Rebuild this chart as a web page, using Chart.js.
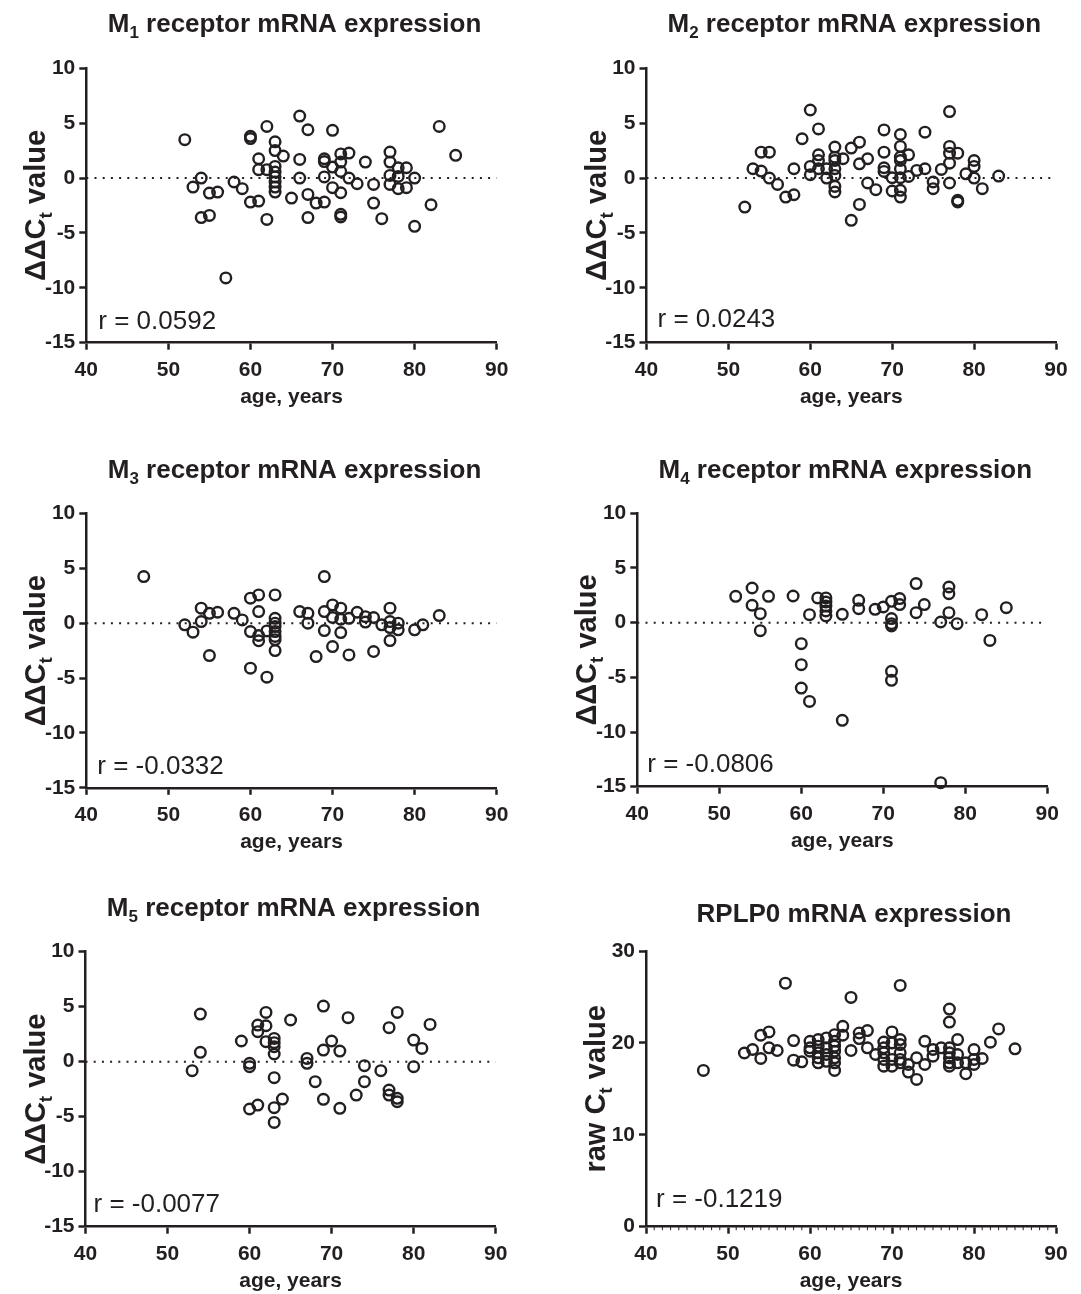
<!DOCTYPE html>
<html>
<head>
<meta charset="utf-8">
<script src="https://cdn.jsdelivr.net/npm/chart.js@4.4.1/dist/chart.umd.min.js"></script>
<style>
  body { margin: 0; background: #fff; width: 1081px; height: 1294px; position: relative; overflow: hidden; }
  canvas { position: absolute; }
</style>
</head>
<body>
<canvas id="c1" width="540" height="445" style="left:0;top:0"></canvas>
<canvas id="c2" width="541" height="445" style="left:540px;top:0"></canvas>
<canvas id="c3" width="540" height="440" style="left:0;top:445px"></canvas>
<canvas id="c4" width="541" height="440" style="left:540px;top:445px"></canvas>
<canvas id="c5" width="540" height="409" style="left:0;top:885px"></canvas>
<canvas id="c6" width="541" height="409" style="left:540px;top:885px"></canvas>
<script>
'use strict';

// ---- data (age in years, ΔΔCt / raw Ct) ----
const ageTicks = [40, 50, 60, 70, 80, 90];
const deltaTicks = [-15, -10, -5, 0, 5, 10];
const rawTicks = [0, 10, 20, 30];
const zeroLineX = [40, 90];

const m1Age = [52, 66, 62, 67, 70, 83, 85, 60, 60, 63, 63, 64, 61, 66, 69, 69, 71, 72, 71, 74, 77, 77, 78, 79,
  61, 62, 63, 63, 63, 63, 63, 63, 70, 71, 54, 66, 69, 72, 77, 78, 80, 53, 55, 56, 58, 59, 73, 75, 77, 78, 79,
  70, 71, 65, 67, 60, 61, 68, 69, 75, 82, 54, 55, 62, 67, 71, 71, 76, 80, 57];
const m1Val = [3.5, 5.65, 4.7, 4.4, 4.35, 4.7, 2.07, 3.8, 3.6, 3.3, 2.5, 2.0, 1.76, 1.7, 1.76, 1.5, 2.2, 2.28, 1.46, 1.46, 2.37, 1.46, 0.94, 0.94,
  0.76, 0.76, 1.06, 0.55, 0.1, -0.36, -0.82, -1.28, 1.0, 0.6, 0, 0, 0.1, 0, 0.24, 0.15, 0, -0.82, -1.37, -1.28, -0.36, -0.97, -0.52, -0.58, -0.58, -0.97, -0.88,
  -0.88, -1.34, -1.82, -1.49, -2.19, -2.1, -2.28, -2.19, -2.28, -2.43, -3.6, -3.4, -3.77, -3.6, -3.3, -3.55, -3.7, -4.4, -9.1];

const m2Age = [52, 53, 54, 54, 55, 55, 56, 57, 58, 58, 59, 60, 61, 60, 60, 61, 61, 61, 62, 62, 63, 63, 63, 63, 63, 63, 63,
  64, 65, 66, 66, 67, 67, 68, 65, 66, 69, 69, 69, 69, 70, 70, 71, 71, 71, 71, 71, 71, 71, 71, 72, 72, 73, 74, 74,
  75, 75, 76, 77, 77, 77, 77, 77, 78, 78, 78, 79, 80, 80, 80, 81, 83];
const m2Val = [-2.64, 0.85, 0.64, 2.36, 2.36, 0, -0.58, -1.73, -1.52, 0.85, 3.58, 6.2, 4.48, 1.06, 0.3, 2.12, 1.6, 0.85, 0.85, 0, 2.82, 1.9, 1.6, 0.85, 0.24, -0.76, -1.27,
  1.76, 2.73, 3.27, 1.3, 1.76, -0.45, -1.06, -3.85, -2.4, 4.39, 2.36, 0.94, 0.6, 0.03, -1.18, 3.97, 2.88, 1.9, 1.6, 0.85, 0.03, -1.12, -1.73, 2.12, 0.15, 0.7, 4.18, 0.85,
  -0.36, -0.97, 0.79, 6.06, 2.88, 2.27, 1.36, -0.45, 2.27, -2.03, -2.18, 0.39, 1.6, 1.06, 0, -0.97, 0.18];

const m3Age = [47, 52, 53, 54, 54, 55, 56, 55, 58, 59, 60, 61, 61, 60, 61, 61, 60, 62, 62, 63, 63, 63, 63, 63, 63, 63, 63,
  66, 67, 67, 68, 69, 69, 69, 70, 71, 70, 71, 71, 70, 72, 72, 73, 74, 74, 75, 75, 76, 77, 77, 77, 77, 78, 78, 80, 81, 83];
const m3Val = [4.25, -0.15, -0.82, 1.37, 0.15, 0.9, 1.0, -2.95, 0.9, 0.3, 2.28, 2.58, 1.06, -0.76, -1.12, -1.6, -4.1, -4.92, -0.7, 2.58, 0.45, 0, -0.3, -0.76, -1.2, -1.5, -2.49,
  1.06, 0.9, 0, -3.04, 4.25, 1.06, -0.67, 1.67, 1.37, 0.52, 0.36, -0.85, -2.13, 0.45, -2.89, 1.0, 0.6, 0.1, 0.52, -2.58, -0.15, 1.37, 0.15, -0.4, -1.58, 0, -0.6, -0.6, -0.15, 0.7];

const m4Age = [52, 54, 54, 55, 55, 56, 59, 60, 60, 60, 61, 61, 62, 63, 63, 63, 63, 63, 65, 65, 67, 67, 69, 70,
  71, 72, 72, 71, 71, 71, 71, 71, 74, 74, 75, 77, 78, 78, 78, 79, 77, 82, 83, 85];
const m4Val = [2.41, 3.17, 1.59, 0.82, -0.73, 2.41, 2.44, -1.92, -3.84, -5.98, 0.73, -7.2, 2.26, 2.26, 1.89, 1.52, 1.07, 0.61, 0.76, -8.93, 2.04, 1.28, 1.22, 1.43,
  1.95, 2.2, 1.65, 0.37, -0.09, -0.3, -4.45, -5.27, 3.57, 0.91, 1.65, 0.06, 3.26, 2.65, 0.91, -0.09, -14.63, 0.73, -1.62, 1.37];

const m5Age = [54, 54, 53, 59, 60, 60, 60, 61, 61, 61, 62, 62, 62, 63, 63, 63, 63, 63, 63, 63, 64, 65, 67, 67, 68,
  69, 69, 69, 70, 71, 71, 72, 73, 74, 74, 76, 77, 77, 77, 78, 78, 78, 80, 80, 81, 82];
const m5Val = [4.33, 0.85, -0.82, 1.88, -0.15, -0.45, -4.3, 3.33, 2.73, -3.94, 4.48, 3.27, 1.82, 2.12, 1.73, 1.36, 0.7, -1.45, -4.18, -5.52, -3.4, 3.79, 0.3, -0.15, -1.82,
  5.06, 1.06, -3.42, 1.88, 0.97, -4.24, 4.0, -3.03, -0.36, -1.82, -0.82, 3.09, -2.58, -3.03, 4.48, -3.33, -3.64, 1.97, -0.45, 1.21, 3.39];

const rplpAge = [47, 52, 53, 54, 55, 54, 55, 56, 57, 58, 58, 59, 60, 60, 60, 61, 61, 61, 61, 61, 62, 62, 62, 62,
  63, 63, 63, 63, 63, 63, 63, 64, 64, 65, 65, 66, 66, 67, 67, 68, 69, 69, 69, 69, 69, 70, 70, 70, 70,
  71, 71, 71, 71, 71, 71, 72, 72, 73, 73, 74, 74, 75, 75, 76, 77, 77, 77, 77, 77, 77, 77, 78, 78, 78,
  79, 79, 80, 80, 80, 81, 82, 83, 85];
const rplpVal = [17.0, 18.9, 19.28, 20.83, 21.19, 18.3, 19.46, 19.17, 26.5, 20.25, 18.12, 17.94, 20.18, 19.46, 19.1, 20.36, 19.64, 18.92, 18.38, 17.83, 20.54, 19.46, 18.74, 18.0,
  20.9, 20.18, 19.64, 19.1, 18.38, 17.83, 17.0, 21.8, 20.83, 24.95, 19.17, 21.08, 20.47, 21.34, 19.46, 18.74, 20.1, 19.46, 18.92, 18.2, 17.47, 21.19, 20.0, 18.2, 17.47,
  26.25, 20.36, 19.82, 18.92, 18.2, 17.83, 17.65, 16.82, 18.38, 16.03, 20.18, 17.65, 19.28, 18.56, 19.46, 23.68, 22.27, 19.46, 18.92, 18.38, 17.83, 17.47, 20.36, 18.74, 17.83,
  17.83, 16.64, 19.28, 18.2, 17.65, 18.3, 20.07, 21.52, 19.35];

const rValues = ['r = 0.0592', 'r = 0.0243', 'r = -0.0332', 'r = -0.0806', 'r = -0.0077', 'r = -0.1219'];

// ---- styling ----
const FONT = '"Liberation Sans", Arial, Helvetica, sans-serif';
const INK = '#231f20';

const sub = (t, size = 17, dy = 6) => ({ text: t, size, dy });
const big = (t, size = 26) => ({ text: t, size });
const mTitle = (n) => [big('M'), sub(String(n)), big(' receptor mRNA expression')];
const ddctTitle = [big('ΔΔC', 29), sub('t', 19, 7), big(' value', 29)];
const rawTitle = [big('raw C', 29), sub('t', 19, 7), big(' value', 29)];

const measureRich = (ctx, parts) => parts.reduce((w, p) => {
  ctx.font = `bold ${p.size}px ${FONT}`;
  return w + ctx.measureText(p.text).width;
}, 0);

const drawRich = (ctx, parts, cx, baseline) => {
  let x = cx - measureRich(ctx, parts) / 2;
  parts.forEach(p => {
    ctx.font = `bold ${p.size}px ${FONT}`;
    ctx.fillText(p.text, x, baseline + (p.dy || 0));
    x += ctx.measureText(p.text).width;
  });
};

const decor = (cfg) => ({
  id: 'decor',
  afterDraw(chart) {
    const { ctx, chartArea: a } = chart;
    const cx = (a.left + a.right) / 2;
    ctx.save();
    ctx.fillStyle = INK;
    ctx.textAlign = 'left';
    ctx.textBaseline = 'alphabetic';
    drawRich(ctx, cfg.title, cx + 3, a.top - cfg.titleGap);
    drawRich(ctx, [big('age, years', 21)], cx, a.bottom + 60);
    ctx.font = `26px ${FONT}`;
    ctx.fillText(cfg.r, a.left + cfg.rx, a.bottom - cfg.ry);
    if (cfg.minor) {
      const xs = chart.scales.x;
      ctx.strokeStyle = INK;
      ctx.lineWidth = 1;
      for (let v = xs.min + 1; v < xs.max; v++) {
        if (v % 10 === 0) continue;
        const px = xs.getPixelForValue(v);
        ctx.beginPath();
        ctx.moveTo(px, a.bottom);
        ctx.lineTo(px, a.bottom + 3.5);
        ctx.stroke();
      }
    }
    ctx.translate(a.left - 41, (a.top + a.bottom) / 2);
    ctx.rotate(-Math.PI / 2);
    drawRich(ctx, cfg.yTitle, 0, 0);
    ctx.restore();
  },
});

const axisStyle = (ticksFont) => ({
  grid: { drawOnChartArea: false, drawTicks: true, tickLength: 7, tickWidth: 2.5, tickColor: INK },
  border: { display: true, color: INK, width: 2.5 },
  ticks: { font: ticksFont, color: INK, autoSkip: false, maxRotation: 0 },
});

const panels = [
  { id: 'c1', left: 0, top: 0, x0: 86.3, x1: 496.7, y0: 68.3, y1: 342.7, ages: m1Age, vals: m1Val, title: mTitle(1), yTitle: ddctTitle, r: rValues[0], rx: 12, ry: 13.5, titleGap: 36, yTicks: deltaTicks, zero: true },
  { id: 'c2', left: 540, top: 0, x0: 646.5, x1: 1056, y0: 68.3, y1: 342.7, ages: m2Age, vals: m2Val, title: mTitle(2), yTitle: ddctTitle, r: rValues[1], rx: 11, ry: 16, titleGap: 36, yTicks: deltaTicks, zero: true },
  { id: 'c3', left: 0, top: 445, x0: 86.3, x1: 496.7, y0: 513.5, y1: 787.8, ages: m3Age, vals: m3Val, title: mTitle(3), yTitle: ddctTitle, r: rValues[2], rx: 11, ry: 13.5, titleGap: 35.5, yTicks: deltaTicks, zero: true },
  { id: 'c4', left: 540, top: 445, x0: 637.3, x1: 1047.3, y0: 513.3, y1: 786.7, ages: m4Age, vals: m4Val, title: mTitle(4), yTitle: ddctTitle, r: rValues[3], rx: 10, ry: 14.5, titleGap: 35.5, yTicks: deltaTicks, zero: true },
  { id: 'c5', left: 0, top: 885, x0: 85.5, x1: 495.7, y0: 951.7, y1: 1226.7, ages: m5Age, vals: m5Val, title: mTitle(5), yTitle: ddctTitle, r: rValues[4], rx: 8, ry: 15, titleGap: 35.7, yTicks: deltaTicks, zero: true },
  { id: 'c6', left: 540, top: 885, x0: 646, x1: 1056, y0: 951, y1: 1226.7, ages: rplpAge, vals: rplpVal, title: [big('RPLP0 mRNA expression')], yTitle: rawTitle, r: rValues[5], rx: 10, ry: 20, titleGap: 29, yTicks: rawTicks, zero: false, minor: true },
];

const makeChart = (p) => {
  const canvas = document.getElementById(p.id);
  const tickFont = { family: FONT, size: 21, weight: 'bold' };
  const datasets = [{
    data: p.ages.map((a, i) => ({ x: a, y: p.vals[i] })),
    pointStyle: 'circle',
    pointRadius: 5.3,
    pointBorderWidth: 2.4,
    borderColor: INK,
    backgroundColor: 'rgba(0,0,0,0)',
    clip: false,
    order: 1,
  }];
  if (p.zero) {
    datasets.push({
      data: zeroLineX.map(x => ({ x, y: 0 })),
      showLine: true,
      pointRadius: 0,
      borderColor: INK,
      borderWidth: 2,
      borderDash: [2, 6.2],
      order: 2,
    });
  }
  const xAxis = axisStyle(tickFont);
  const yAxis = axisStyle(tickFont);
  return new Chart(canvas, {
    type: 'scatter',
    data: { datasets },
    options: {
      responsive: false,
      animation: false,
      devicePixelRatio: 1,
      events: [],
      layout: { padding: { top: p.y0 - p.top, right: canvas.width - (p.x1 - p.left), left: 0, bottom: 0 } },
      plugins: { legend: { display: false }, tooltip: { enabled: false }, title: { display: false } },
      scales: {
        x: {
          ...xAxis,
          type: 'linear',
          min: ageTicks[0],
          max: ageTicks[ageTicks.length - 1],
          afterBuildTicks: (s) => { s.ticks = ageTicks.map(v => ({ value: v })); },
          ticks: { ...xAxis.ticks, padding: 8 },
          afterFit: (s) => { s.height = canvas.height - (p.y1 - p.top); },
        },
        y: {
          ...yAxis,
          type: 'linear',
          min: p.yTicks[0],
          max: p.yTicks[p.yTicks.length - 1],
          afterBuildTicks: (s) => { s.ticks = p.yTicks.map(v => ({ value: v })); },
          ticks: { ...yAxis.ticks, padding: 4 },
          afterFit: (s) => { s.width = p.x0 - p.left; },
        },
      },
    },
    plugins: [decor(p)],
  });
};

panels.forEach(makeChart);
</script>
</body>
</html>
